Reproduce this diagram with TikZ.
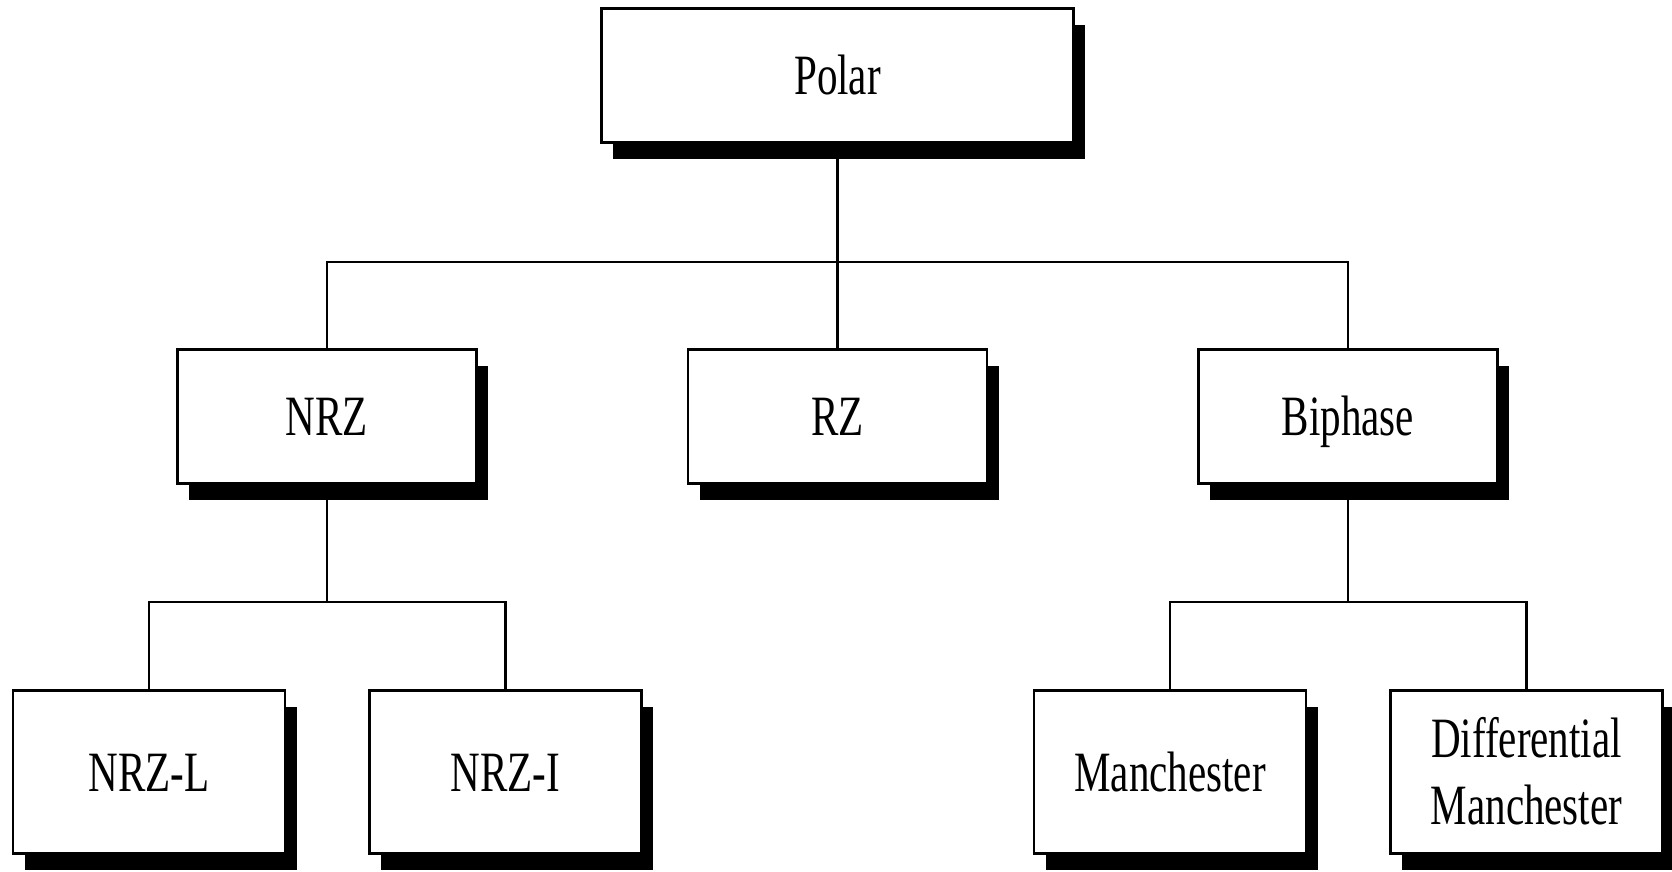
\documentclass[tikz,border=0pt]{standalone}
\usepackage{fontspec}
\setmainfont[FakeStretch=0.72]{Liberation Serif}
\usetikzlibrary{shadows}
\begin{document}
\begin{tikzpicture}[x=1pt,y=-1pt,
  box/.style={draw=black, line width=2.8pt, fill=white, inner sep=0pt,
    font=\fontsize{57pt}{67pt}\selectfont, text height=38pt, text depth=0pt,
    align=center,
    drop shadow={shadow xshift=11.5pt, shadow yshift=-16pt, fill=black, opacity=1}},
  topbox/.style={box, minimum width=472pt, minimum height=134pt},
  midbox/.style={box, minimum width=299pt, minimum height=134pt},
  lowbox/.style={box, minimum width=272pt, minimum height=163pt},
  link/.style={draw=black, line width=2.8pt}]
\useasboundingbox (0,0) rectangle (1672,871);
\fill[white] (0,0) rectangle (1672,871);
% junctions
\coordinate (j1) at (837.5,262);
\coordinate (j2) at (327,602);
\coordinate (j3) at (1348,602);
% connectors first (boxes drawn on top)
\node[topbox] (polar) at (837.5,75.5) {Polar};
\node[midbox] (nrz) at (327,416.5) {NRZ};
\node[midbox] (rz) at (837.5,416.5) {RZ};
\node[midbox] (biph) at (1348,416.5) {Biphase};
\node[lowbox] (nrzl) at (149,772) {NRZ-L};
\node[lowbox] (nrzi) at (505.5,772) {NRZ-I};
\node[lowbox] (manch) at (1170,772) {Manchester};
\node[lowbox, text height=105pt] (diff) at (1526.5,772) {Differential\\Manchester};
\draw[link] (polar.south) -- (rz.north);
\draw[link] (nrz.north) |- (j1) -| (biph.north);
\draw[link] (nrz.south) -- (j2);
\draw[link] (nrzl.north) |- (j2) -| (nrzi.north);
\draw[link] (biph.south) -- (j3);
\draw[link] (manch.north) |- (j3) -| (diff.north);
\end{tikzpicture}
\end{document}
